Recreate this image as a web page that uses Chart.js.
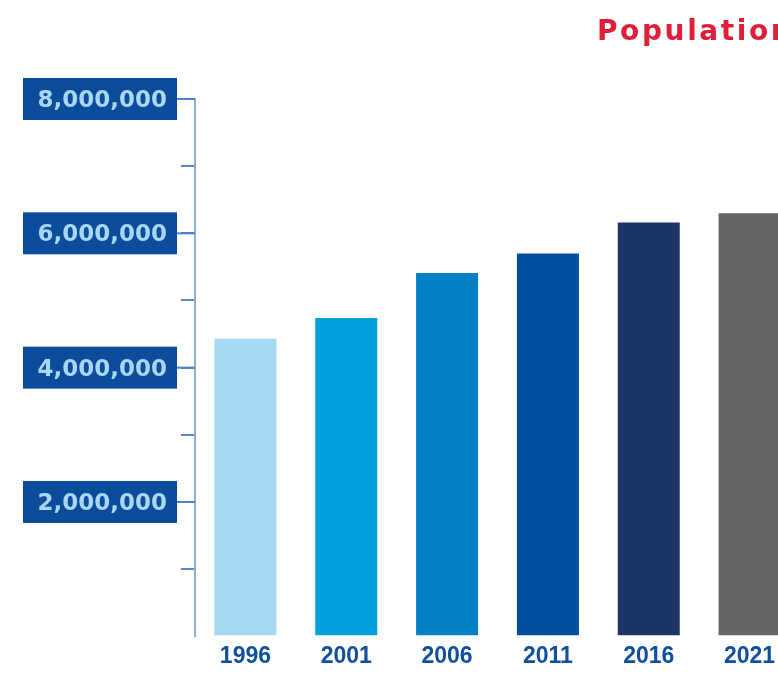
<!DOCTYPE html>
<html>
<head>
<meta charset="utf-8">
<script src="https://cdn.jsdelivr.net/npm/chart.js@4.4.1/dist/chart.umd.min.js"></script>
<style>
  html, body { margin: 0; padding: 0; background: #fff; overflow: hidden; }
  #wrap { position: relative; width: 810px; height: 675px; }
  #title {
    position: absolute; left: 597px; top: 14px; white-space: nowrap; line-height: 28px;
    font: bold 28px "DejaVu Sans", sans-serif; letter-spacing: 2.6px; color: #e01e37;
  }
</style>
</head>
<body>
<div id="wrap">
  <div id="title">Population</div>
  <canvas id="myChart"></canvas>
</div>
<script>
const years = ["1996", "2001", "2006", "2011", "2016", "2021"];
const population = [4430000, 4740000, 5410000, 5700000, 6160000, 6300000];
const barColors = ["#a5d8f3", "#00a0dc", "#0380c5", "#004e9d", "#1c3566", "#636466"];
const yLabelValues = [2000000, 4000000, 6000000, 8000000];

// boxed y axis labels, placed with the y scale
const boxLabels = {
  id: 'boxLabels',
  afterDraw(chart) {
    const c = chart.ctx;
    const y = chart.scales.y;
    c.save();
    yLabelValues.forEach(v => {
      const py = y.getPixelForValue(v);
      c.fillStyle = '#0b4d9b';
      c.fillRect(23, py - 21, 154, 42);
      c.strokeStyle = '#4f82c6';
      c.lineWidth = 2;
      c.beginPath();
      c.moveTo(177, py);
      c.lineTo(y.right, py);
      c.stroke();
      c.fillStyle = '#a8d6f3';
      c.font = 'bold 23px "DejaVu Sans"';
      c.textAlign = 'right';
      c.textBaseline = 'alphabetic';
      c.fillText(v.toLocaleString('en-US'), 167, py + 8);
    });
    c.restore();
  }
};

const ctx = document.getElementById("myChart").getContext("2d");

let chart = new Chart(ctx, {
  type: 'bar',
  data: {
    labels: years,
    datasets: [{
      data: population,
      backgroundColor: barColors,
      borderWidth: 0,
      barPercentage: 0.615,
      categoryPercentage: 1
    }]
  },
  options: {
    responsive: true,
    maintainAspectRatio: false,
    animation: false,
    layout: { padding: { left: 181, right: 10, top: 99, bottom: -2 } },
    plugins: {
      legend: { display: false },
      tooltip: { enabled: false }
    },
    scales: {
      x: {
        grid: { display: false, drawTicks: false },
        border: { display: false },
        ticks: {
          padding: 10,
          color: '#0f4f9e',
          font: { family: 'Liberation Sans', weight: 'bold', size: 23, lineHeight: 0.9 }
        }
      },
      y: {
        min: 0,
        max: 8000000,
        border: { display: true, color: '#8fb1e0', width: 2 },
        grid: {
          drawOnChartArea: false,
          drawTicks: true,
          tickLength: 14,
          lineWidth: 2,
          color: c => c.tick && c.tick.value === 0 ? 'rgba(0,0,0,0)' : '#5a88c8'
        },
        ticks: { display: false, stepSize: 1000000 }
      }
    }
  },
  plugins: [boxLabels]
});
</script>
</body>
</html>
